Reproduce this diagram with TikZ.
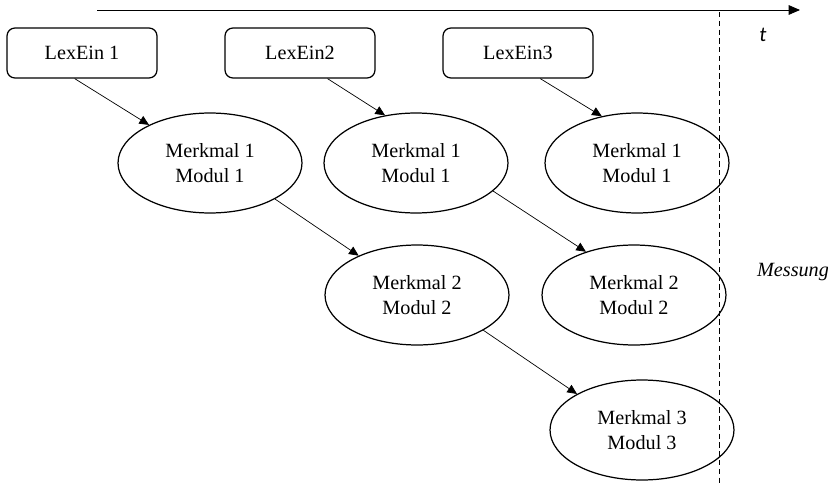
\documentclass[tikz,border=0pt]{standalone}
\usepackage{fontspec}
\setmainfont{Liberation Serif}
\newfontfamily\boxfont{Liberation Serif}
\newfontfamily\axisfont{Carlito}
\usetikzlibrary{shapes.geometric, arrows.meta}

\tikzset{
    lexbox/.style={draw, rounded corners=4.5pt, minimum width=3cm, minimum height=1cm, inner sep=0pt, line width=0.7pt, font=\boxfont\fontsize{11.5}{14}\selectfont},
    merkmal/.style={draw, ellipse, minimum width=3.68cm, minimum height=2cm, inner sep=0pt, align=center, line width=0.7pt, font=\boxfont\fontsize{11.5}{14}\selectfont},
    flow/.style={-{Triangle[length=5.5pt, width=5pt]}, line width=0.4pt}
}

\begin{document}
\begin{tikzpicture}[x=0.02cm, y=-0.02cm]
            \useasboundingbox (0, 0) rectangle (828, 483);

            % time axis and measuring line
            \coordinate (tstart) at (97, 10);
            \coordinate (tend) at (800, 10);
            \coordinate (mtop) at (719, 12);
            \coordinate (mbot) at (719, 483);
            \draw[-{Triangle[length=6.5pt, width=5.5pt]}, line width=0.5pt] (tstart) -- (tend);
            \draw[dashed, dash pattern=on 3pt off 2pt, line width=0.5pt] (mtop) -- (mbot);
            \node[font=\axisfont\itshape\fontsize{12}{14}\selectfont] (tlabel) at (763, 35) {t};
            \node[font=\boxfont\itshape\fontsize{11.5}{14}\selectfont] (messung) at (793, 272) {Messung};

            \node[lexbox] (lex1) at (82, 53) {LexEin 1};
            \node[lexbox] (lex2) at (300, 53) {LexEin2};
            \node[lexbox] (lex3) at (518, 53) {LexEin3};

            \node[merkmal] (m11) at (210, 163) {Merkmal 1\\Modul 1};
            \node[merkmal] (m12) at (416, 163) {Merkmal 1\\Modul 1};
            \node[merkmal] (m13) at (637, 163) {Merkmal 1\\Modul 1};
            \node[merkmal] (m21) at (417, 295) {Merkmal 2\\Modul 2};
            \node[merkmal] (m22) at (634, 295) {Merkmal 2\\Modul 2};
            \node[merkmal] (m31) at (642, 430) {Merkmal 3\\Modul 3};

            \draw[flow] (lex1.-106) -- (m11.148);
            \draw[flow] (lex2.-43) -- (m12.123);
            \draw[flow] (lex3.-49) -- (m13.127);
            \draw[flow] (m11.-29) -- (m21.146);
            \draw[flow] (m12.-20) -- (m22.138);
            \draw[flow] (m21.-28) -- (m31.151);
\end{tikzpicture}
\end{document}
